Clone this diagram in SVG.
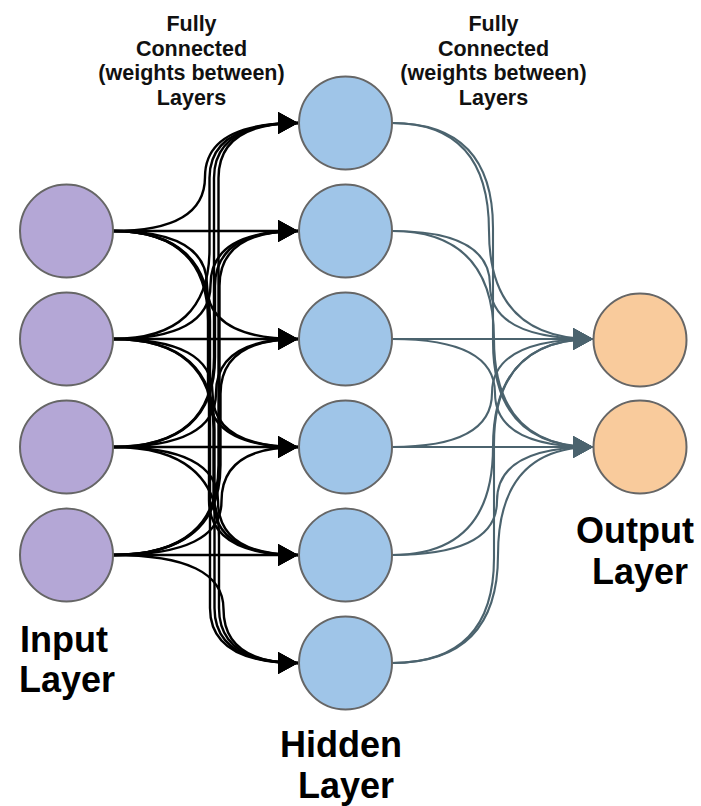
<svg xmlns="http://www.w3.org/2000/svg" width="701" height="806" viewBox="0 0 701 806">
<style>
.node{stroke:#666666;stroke-width:2}
.in{fill:#B4A7D6}
.hid{fill:#9FC5E8}
.out{fill:#F9CB9C}
.e1{fill:none;stroke:#000000;stroke-width:2.4;marker-end:url(#ab)}
.e2{fill:none;stroke:#4B636E;stroke-width:2.1;marker-end:url(#as)}
.small{font-family:"Liberation Sans",Arial,sans-serif;font-weight:bold;font-size:21.5px;fill:#111;text-anchor:middle}
.big{font-family:"Liberation Sans",Arial,sans-serif;font-weight:bold;font-size:36px;fill:#000;text-anchor:middle}
</style>
<defs>
<marker id="ab" markerUnits="userSpaceOnUse" markerWidth="20" markerHeight="22" viewBox="0 0 20 22" refX="20" refY="11" orient="auto"><path d="M0,0 L20,11 L0,22 Z" fill="#000000"/></marker>
<marker id="as" markerUnits="userSpaceOnUse" markerWidth="20" markerHeight="22" viewBox="0 0 20 22" refX="20" refY="11" orient="auto"><path d="M0,0 L20,11 L0,22 Z" fill="#4B636E"/></marker>
</defs>
<g id="connectors">
<path class="e1" d="M113 231 Q205 231 205 177 Q205 123 298 123"/>
<path class="e1" d="M113 231 H298"/>
<path class="e1" d="M113 231 Q207 231 207 285 Q207 339 298 339"/>
<path class="e1" d="M113 231 Q208 231 208 321 L208 392 Q208 447 298 447"/>
<path class="e1" d="M113 231 Q209 231 209 321 L209 500 Q209 555 298 555"/>
<path class="e1" d="M113 231 Q210 231 210 321 L210 608 Q210 663 298 663"/>
<path class="e1" d="M113 339 Q209.5 339 209.5 249 L209.5 178 Q209.5 123 298 123"/>
<path class="e1" d="M113 339 Q210.5 339 210.5 285 Q210.5 231 298 231"/>
<path class="e1" d="M113 339 H298"/>
<path class="e1" d="M113 339 Q212.5 339 212.5 393 Q212.5 447 298 447"/>
<path class="e1" d="M113 339 Q213.5 339 213.5 429 L213.5 500 Q213.5 555 298 555"/>
<path class="e1" d="M113 339 Q214.5 339 214.5 429 L214.5 608 Q214.5 663 298 663"/>
<path class="e1" d="M113 447 Q214 447 214 357 L214 178 Q214 123 298 123"/>
<path class="e1" d="M113 447 Q215 447 215 357 L215 286 Q215 231 298 231"/>
<path class="e1" d="M113 447 Q216 447 216 393 Q216 339 298 339"/>
<path class="e1" d="M113 447 H298"/>
<path class="e1" d="M113 447 Q218 447 218 501 Q218 555 298 555"/>
<path class="e1" d="M113 447 Q219 447 219 537 L219 608 Q219 663 298 663"/>
<path class="e1" d="M113 555 Q218.5 555 218.5 465 L218.5 178 Q218.5 123 298 123"/>
<path class="e1" d="M113 555 Q219.5 555 219.5 465 L219.5 286 Q219.5 231 298 231"/>
<path class="e1" d="M113 555 Q220.5 555 220.5 465 L220.5 394 Q220.5 339 298 339"/>
<path class="e1" d="M113 555 Q221.5 555 221.5 501 Q221.5 447 298 447"/>
<path class="e1" d="M113 555 H298"/>
<path class="e1" d="M113 555 Q223.5 555 223.5 609 Q223.5 663 298 663"/>
<path class="e2" d="M392 123 Q489 123 489 231 Q489 339 593 339"/>
<path class="e2" d="M392 123 Q493 123 493 228 L493 342 Q493 447 593 447"/>
<path class="e2" d="M392 231 Q490 231 490 285 Q490 339 593 339"/>
<path class="e2" d="M392 231 Q494 231 494 339 Q494 447 593 447"/>
<path class="e2" d="M392 339 H593"/>
<path class="e2" d="M392 339 Q495 339 495 393 Q495 447 593 447"/>
<path class="e2" d="M392 447 Q492 447 492 393 Q492 339 593 339"/>
<path class="e2" d="M392 447 H593"/>
<path class="e2" d="M392 555 Q493 555 493 447 Q493 339 593 339"/>
<path class="e2" d="M392 555 Q497 555 497 501 Q497 447 593 447"/>
<path class="e2" d="M392 663 Q494 663 494 558 L494 444 Q494 339 593 339"/>
<path class="e2" d="M392 663 Q498 663 498 555 Q498 447 593 447"/>
</g>
<g id="input1"><circle class="node in" cx="66.5" cy="231" r="46.5"/></g>
<g id="input2"><circle class="node in" cx="66.5" cy="339" r="46.5"/></g>
<g id="input3"><circle class="node in" cx="66.5" cy="447" r="46.5"/></g>
<g id="input4"><circle class="node in" cx="66.5" cy="555" r="46.5"/></g>
<g id="hidden1"><circle class="node hid" cx="345.5" cy="123" r="46.5"/></g>
<g id="hidden2"><circle class="node hid" cx="345.5" cy="231" r="46.5"/></g>
<g id="hidden3"><circle class="node hid" cx="345.5" cy="339" r="46.5"/></g>
<g id="hidden4"><circle class="node hid" cx="345.5" cy="447" r="46.5"/></g>
<g id="hidden5"><circle class="node hid" cx="345.5" cy="555" r="46.5"/></g>
<g id="hidden6"><circle class="node hid" cx="345.5" cy="663" r="46.5"/></g>
<g id="output1"><circle class="node out" cx="640" cy="340" r="46.5"/></g>
<g id="output2"><circle class="node out" cx="640" cy="447" r="46.5"/></g>
<g id="label-fc1"><text class="small"><tspan x="191.5" y="31">Fully</tspan><tspan x="191.5" y="55.5">Connected</tspan><tspan x="191.5" y="80">(weights between)</tspan><tspan x="191.5" y="104.5">Layers</tspan></text></g>
<g id="label-fc2"><text class="small"><tspan x="493.5" y="31">Fully</tspan><tspan x="493.5" y="55.5">Connected</tspan><tspan x="493.5" y="80">(weights between)</tspan><tspan x="493.5" y="104.5">Layers</tspan></text></g>
<g id="label-input"><text class="big"><tspan x="64" y="652">Input</tspan><tspan x="67" y="692">Layer</tspan></text></g>
<g id="label-hidden"><text class="big"><tspan x="341" y="757">Hidden</tspan><tspan x="346" y="798">Layer</tspan></text></g>
<g id="label-output"><text class="big"><tspan x="635" y="543">Output</tspan><tspan x="640" y="584">Layer</tspan></text></g>
</svg>
